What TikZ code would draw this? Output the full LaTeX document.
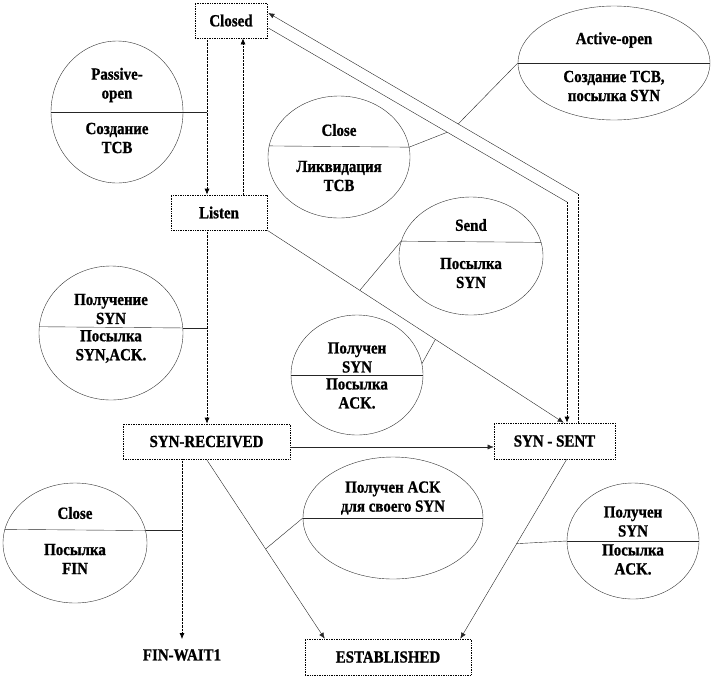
\documentclass[tikz,border=0pt]{standalone}
\usepackage{fontspec}
\setmainfont[FakeStretch=0.88, BoldFeatures={FakeBold=1}]{Liberation Serif}
\usetikzlibrary{shapes.geometric,arrows.meta,calc}
\begin{document}
\begin{tikzpicture}[x=1pt,y=-1pt,
  txt/.style={font=\fontsize{17}{19}\selectfont\bfseries, align=center, inner sep=0pt},
  statebox/.style={draw=black, densely dotted, line width=0.7pt, minimum width=#1, minimum height=35pt, inner sep=0pt, font=\fontsize{17}{19}\selectfont\bfseries},
  oval/.style={draw=black!80, thin, ellipse, inner sep=0pt},
  arr/.style={-{Latex[length=6pt,width=5pt]}, black!85, thin},
  dotarr/.style={arr, densely dotted, black, line width=0.7pt},
  link/.style={black!85, thin},
]
\useasboundingbox (0,0) rectangle (714,678);

% states
\node[statebox=72pt] (closed) at (231,20.5) {Closed};
\node[statebox=96pt] (listen) at (219,212.5) {Listen};
\node[statebox=167pt] (synrcvd) at (206.5,441.5) {SYN-RECEIVED};
\node[statebox=121pt, minimum height=36pt] (synsent) at (554.5,441) {SYN - SENT};
\node[statebox=166pt, minimum height=36pt] (est) at (388,657) {ESTABLISHED};
\node[txt] (finwait) at (182,655) {FIN-WAIT1};

% helper coordinates
\coordinate (xA) at (207,0);
\coordinate (xB) at (243,0);
\coordinate (xF) at (182,0);
\coordinate (oTop) at ($(closed.east)+(1,-7.5)$);
\coordinate (oBend) at (578,194);
\coordinate (iTop) at ($(closed.east)+(1,7.5)$);
\coordinate (iBend) at (567,202);
\coordinate (lsEnd) at ([xshift=70pt]synsent.north west);
\coordinate (estL) at ([xshift=20pt]est.north west);
\coordinate (ssB) at ([xshift=73pt]synsent.south west);
\coordinate (estR) at ([xshift=-11pt]est.north east);

% transitions
\draw[dotarr] (closed.south -| xA) -- (listen.north -| xA);
\draw[dotarr] (listen.north -| xB) -- (closed.south -| xB);
\draw[dotarr] (listen.south -| xA) -- (synrcvd.north -| xA);
\draw[link, densely dotted, black, line width=0.7pt] (synsent.north -| oBend) -- (oBend);
\draw[arr] (oBend) -- (oTop);
\draw[link] (iTop) -- (iBend);
\draw[dotarr] (iBend) -- (synsent.north -| iBend);
\draw[arr] (listen.south east) -- (lsEnd);
\draw[arr] ([yshift=-5.5pt]synrcvd.east) -- ([yshift=-5.5pt]synrcvd.east -| synsent.west);
\draw[arr] (synrcvd.south) -- (estL);
\draw[arr] (ssB) -- (estR);
\draw[dotarr] (synrcvd.south -| xF) -- ([yshift=10pt]finwait.north);

% ellipses
\node[oval, minimum width=132pt, minimum height=142pt] (ePassive) at (117,112) {};
\node[oval, minimum width=142pt, minimum height=122pt] (eCloseT) at (339,157) {};
\node[oval, minimum width=192pt, minimum height=114pt] (eActive) at (614,63) {};
\node[oval, minimum width=144pt, minimum height=118pt] (eSend) at (471,256) {};
\node[oval, minimum width=132pt, minimum height=120pt] (eMid) at (357,375) {};
\node[oval, minimum width=144pt, minimum height=134pt] (eGetSyn) at (111,333) {};
\node[oval, minimum width=144pt, minimum height=120pt] (eCloseB) at (75,543) {};
\node[oval, minimum width=180pt, minimum height=122pt] (eAck) at (393,518) {};
\node[oval, minimum width=132pt, minimum height=116pt] (eRSyn) at (633,541) {};

% dividers
\draw[link] (ePassive.west) -- (ePassive.east);
\draw[link] (eCloseT.171.9) -- (eCloseT.8.1);
\draw[link] (eActive.west) -- (eActive.east);
\draw[link] (eSend.168.7) -- (eSend.11.3);
\draw[link] (eMid.west) -- (eMid.east);
\draw[link] (eGetSyn.175.2) -- (eGetSyn.4.8);
\draw[link] (eCloseB.169.5) -- (eCloseB.10.5);
\draw[link] (eAck.west) -- (eAck.east);
\draw[link] (eRSyn.west) -- (eRSyn.east);

% ellipse connectors
\draw[link] (ePassive.east) -- (ePassive.east -| xA);
\draw[link] (eCloseT.8.1) -- ($(iTop)!0.599!(iBend)$);
\draw[link] (eActive.west) -- ($(oTop)!0.613!(oBend)$);
\draw[link] (eSend.168.7) -- ($(listen.south east)!0.312!(lsEnd)$);
\draw[link] (eMid.10.5) -- ($(listen.south east)!0.567!(lsEnd)$);
\draw[link] (eGetSyn.4.8) -- (eGetSyn.4.8 -| xA);
\draw[link] (eCloseB.10.5) -- (eCloseB.10.5 -| xF);
\draw[link] (eAck.west) -- ($(synrcvd.south)!0.5!(estL)$);
\draw[link] (eRSyn.west) -- ($(ssB)!0.47!(estR)$);

% ellipse texts
\node[txt] (tPassA) at (117,85) {Passive-\\open};
\node[txt] (tPassB) at (117,138) {Создание\\TCB};
\node[txt] (tCloseTA) at (339,130) {Close};
\node[txt] (tCloseTB) at (339,176) {Ликвидация\\TCB};
\node[txt] (tActA) at (614,40) {Active-open};
\node[txt] (tActB) at (614,86) {Создание TCB,\\посылка SYN};
\node[txt] (tSendA) at (471,225) {Send};
\node[txt] (tSendB) at (471,273) {Посылка\\SYN};
\node[txt] (tMidA) at (357,357.5) {Получен\\SYN};
\node[txt] (tMidB) at (357,393.5) {Посылка\\ACK.};
\node[txt] (tGetA) at (111,309) {Получение\\SYN};
\node[txt] (tGetB) at (111,346.5) {Посылка\\SYN,ACK.};
\node[txt] (tCloseBA) at (75,513) {Close};
\node[txt] (tCloseBB) at (75,559) {Посылка\\FIN};
\node[txt] (tAck) at (393,498) {Получен ACK\\для своего SYN};
\node[txt] (tRA) at (633,521.5) {Получен\\SYN};
\node[txt] (tRB) at (633,559.5) {Посылка\\ACK.};
\end{tikzpicture}
\end{document}
